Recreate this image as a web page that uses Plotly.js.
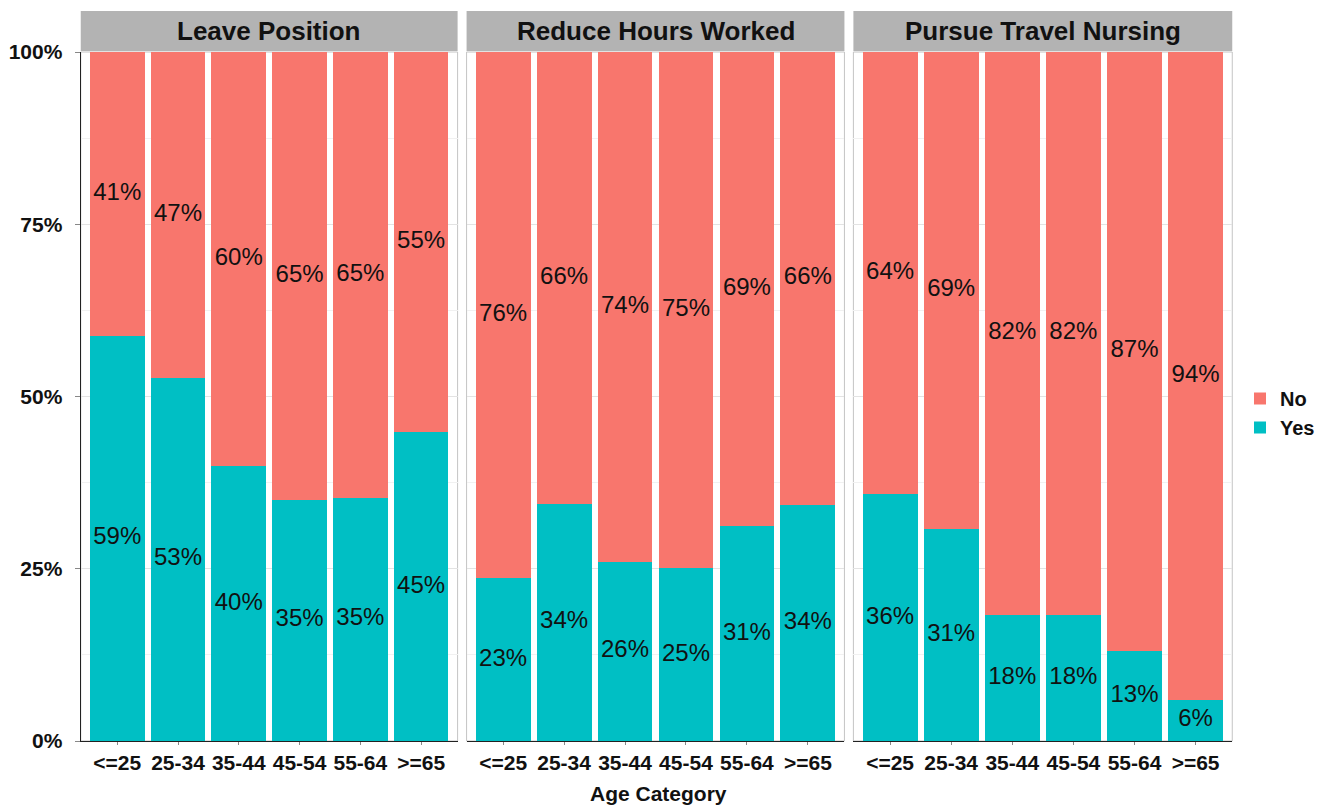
<!DOCTYPE html>
<html>
<head>
<meta charset="utf-8">
<script src="https://cdn.plot.ly/plotly-3.0.1.min.js"></script>
<style>html,body{margin:0;padding:0;background:#fff;}#chart{width:1320px;height:807px;}</style>
</head>
<body>
<div id="chart"></div>
<script>
// ---- data ----
const categories = ['<=25', '25-34', '35-44', '45-54', '55-64', '>=65'];
const panelTitles = ['Leave Position', 'Reduce Hours Worked', 'Pursue Travel Nursing'];

// share of respondents (%) as drawn
const leaveYes  = [58.8, 52.7, 39.9, 35.0, 35.3, 44.8];
const leaveNo   = [41.2, 47.3, 60.1, 65.0, 64.7, 55.2];
const reduceYes = [23.6, 34.4, 26.0, 25.1, 31.2, 34.3];
const reduceNo  = [76.4, 65.6, 74.0, 74.9, 68.8, 65.7];
const travelYes = [35.8, 30.8, 18.3, 18.3, 13.1, 6.0];
const travelNo  = [64.2, 69.2, 81.7, 81.7, 86.9, 94.0];

// printed labels
const leaveYesLabel  = [59, 53, 40, 35, 35, 45];
const leaveNoLabel   = [41, 47, 60, 65, 65, 55];
const reduceYesLabel = [23, 34, 26, 25, 31, 34];
const reduceNoLabel  = [76, 66, 74, 75, 69, 66];
const travelYesLabel = [36, 31, 18, 18, 13, 6];
const travelNoLabel  = [64, 69, 82, 82, 87, 94];

const yTickVals = [0, 25, 50, 75, 100];
const yTickText = ['0%', '25%', '50%', '75%', '100%'];

// ---- styling ----
const colYes = '#00BFC4';
const colNo = '#F8766D';
const FONT = 'Liberation Sans, Arial, sans-serif';

const W = 1320, H = 807;
const panelX = [[81, 459], [468, 847], [856, 1236]];
const plotTop = 52, plotBottom = 741;
const stripTop = 11, stripBottom = 51;
const px = v => v / W;
const py = v => (H - v) / H;

const panels = [
  {yes: leaveYes, no: leaveNo, yl: leaveYesLabel, nl: leaveNoLabel},
  {yes: reduceYes, no: reduceNo, yl: reduceYesLabel, nl: reduceNoLabel},
  {yes: travelYes, no: travelNo, yl: travelYesLabel, nl: travelNoLabel}
];

const traces = [];
const axSuffix = ['', '2', '3'];
panels.forEach((p, i) => {
  const xa = 'x' + axSuffix[i], ya = 'y' + axSuffix[i];
  traces.push({
    type: 'bar', x: categories, y: p.yes, name: 'Yes', xaxis: xa, yaxis: ya,
    marker: {color: colYes, line: {width: 0}}, legendgroup: 'Yes', showlegend: i === 0,
    hoverinfo: 'skip'
  });
  traces.push({
    type: 'bar', x: categories, y: p.no, name: 'No', xaxis: xa, yaxis: ya,
    marker: {color: colNo, line: {width: 0}}, legendgroup: 'No', showlegend: i === 0,
    hoverinfo: 'skip'
  });
  // labels at the middle of each segment
  const yMid = p.yes.map(v => v / 2);
  const nMid = p.yes.map((v, k) => v + p.no[k] / 2);
  traces.push({
    type: 'scatter', mode: 'text', x: categories.concat(categories), y: yMid.concat(nMid),
    text: p.yl.map(v => v + '%').concat(p.nl.map(v => v + '%')),
    textposition: 'middle center', textfont: {family: FONT, size: 24, color: '#111111'},
    xaxis: xa, yaxis: ya, showlegend: false, cliponaxis: false, hoverinfo: 'skip'
  });
});

const layout = {
  width: W, height: H, autosize: false,
  margin: {l: 0, r: 0, t: 0, b: 0, pad: 0},
  paper_bgcolor: '#ffffff', plot_bgcolor: '#ffffff',
  barmode: 'stack', bargap: 0.1,
  font: {family: FONT, color: '#111111'},
  legend: {
    x: px(1244), xanchor: 'left', y: py(413), yanchor: 'middle',
    traceorder: 'reversed', font: {family: FONT, size: 20, color: '#111111', weight: 'bold'},
    bgcolor: 'rgba(0,0,0,0)', itemwidth: 30, tracegroupgap: 7
  },
  shapes: [],
  annotations: []
};

panels.forEach((p, i) => {
  const s = axSuffix[i];
  layout['xaxis' + s] = {
    domain: [px(panelX[i][0]), px(panelX[i][1])], anchor: 'y' + s,
    type: 'category', categoryorder: 'array', categoryarray: categories,
    range: [-0.6, 5.6], fixedrange: true,
    showline: true, linecolor: '#222222', linewidth: 1.2,
    ticks: 'outside', ticklen: 3, tickcolor: '#888888', tickwidth: 1,
    showgrid: true, gridcolor: '#ececec', zeroline: false,
    tickfont: {family: FONT, size: 21, color: '#111111', weight: 'bold'},
    ticklabelstandoff: 0, automargin: false
  };
  layout['yaxis' + s] = {
    domain: [py(plotBottom), py(plotTop)], anchor: 'x' + s,
    range: [0, 100], fixedrange: true,
    tickvals: yTickVals, ticktext: yTickText,
    showticklabels: i === 0,
    ticks: i === 0 ? 'outside' : '', ticklen: 5, tickcolor: '#888888',
    showline: i === 0, linecolor: '#222222', linewidth: 1.2,
    showgrid: true, gridcolor: '#e3e3e3', gridwidth: 1, zeroline: false,
    minor: {dtick: 12.5, tick0: 0, showgrid: true, gridcolor: '#f1f1f1', ticks: ''},
    tickfont: {family: FONT, size: 21, color: '#111111', weight: 'bold'},
    ticklabelstandoff: 8, automargin: false
  };
  // panel border
  layout.shapes.push({
    type: 'rect', xref: 'paper', yref: 'paper', layer: 'below',
    x0: px(panelX[i][0]), x1: px(panelX[i][1]), y0: py(plotBottom), y1: py(plotTop),
    line: {color: '#c4c4c4', width: 1}, fillcolor: 'rgba(0,0,0,0)'
  });
  // strip
  layout.shapes.push({
    type: 'rect', xref: 'paper', yref: 'paper', layer: 'above',
    x0: px(panelX[i][0]), x1: px(panelX[i][1]), y0: py(stripBottom), y1: py(stripTop),
    line: {width: 0}, fillcolor: '#b3b3b3'
  });
  layout.annotations.push({
    xref: 'paper', yref: 'paper', x: px((panelX[i][0] + panelX[i][1]) / 2), y: py((stripTop + stripBottom) / 2),
    xanchor: 'center', yanchor: 'middle', showarrow: false,
    text: '<b>' + panelTitles[i] + '</b>',
    font: {family: FONT, size: 26, color: '#111111'}
  });
});

layout.annotations.push({
  xref: 'paper', yref: 'paper', x: px(661), y: py(793), xanchor: 'center', yanchor: 'middle',
  showarrow: false, text: '<b>Age Category</b>', font: {family: FONT, size: 21, color: '#111111'}
});

Plotly.newPlot('chart', traces, layout, {displayModeBar: false, staticPlot: true});
</script>
</body>
</html>
